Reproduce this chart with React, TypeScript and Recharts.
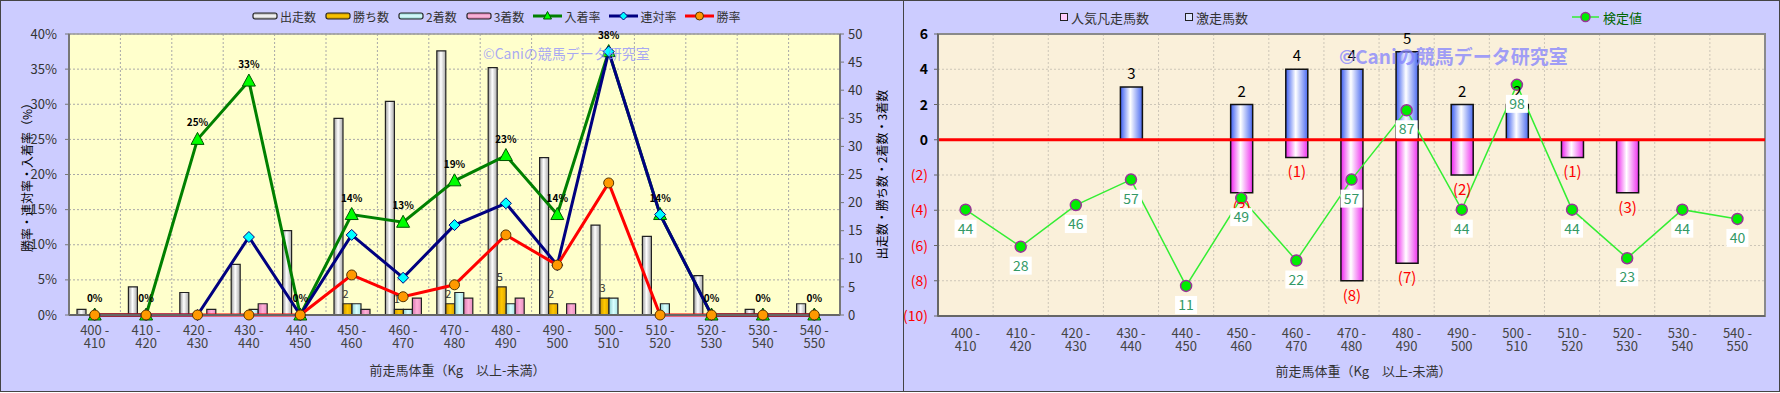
import React from 'react';
import {
  ComposedChart,
  Bar,
  Line,
  XAxis,
  YAxis,
  CartesianGrid,
  LabelList,
  ReferenceLine,
  ReferenceArea,
} from 'recharts';

// ---------- data ----------
const categories = [
  '400 - 410', '410 - 420', '420 - 430', '430 - 440', '440 - 450',
  '450 - 460', '460 - 470', '470 - 480', '480 - 490', '490 - 500',
  '500 - 510', '510 - 520', '520 - 530', '530 - 540', '540 - 550',
];
// left panel (counts)
const starters = [1, 5, 4, 9, 15, 35, 38, 47, 44, 28, 16, 14, 7, 1, 2];
const wins = [0, 0, 0, 0, 0, 2, 1, 2, 5, 2, 3, 0, 0, 0, 0];
const seconds = [0, 0, 0, 1, 0, 2, 1, 4, 2, 0, 3, 2, 0, 0, 0];
const thirds = [0, 0, 1, 2, 0, 1, 3, 3, 3, 2, 0, 0, 0, 0, 0];
// left panel (rates, %)
const placeRate = [0, 0, 25, 33.3, 0, 14.3, 13.2, 19.1, 22.7, 14.3, 37.5, 14.3, 0, 0, 0];
const quinellaRate = [0, 0, 0, 11.1, 0, 11.4, 5.3, 12.8, 15.9, 7.1, 37.5, 14.3, 0, 0, 0];
const winRate = [0, 0, 0, 0, 0, 5.7, 2.6, 4.3, 11.4, 7.1, 18.8, 0, 0, 0, 0];
// right panel
const surgeCount = [null, null, null, 3, null, 2, 4, 4, 5, 2, 2, null, null, null, null];
const flopCount = [null, null, null, null, null, -3, -1, -8, -7, -2, null, -1, -3, null, null];
const testValue = [44, 28, 46, 57, 11, 49, 22, 57, 87, 44, 98, 44, 23, 44, 40];
// ticks
const rateTicks = [0, 5, 10, 15, 20, 25, 30, 35, 40];
const countTicks = [0, 5, 10, 15, 20, 25, 30, 35, 40, 45, 50];
const diffTicks = [-10, -8, -6, -4, -2, 0, 2, 4, 6];

const leftData = categories.map((cat, i) => ({
  cat,
  starters: starters[i],
  wins: wins[i],
  seconds: seconds[i],
  thirds: thirds[i],
  placeRate: placeRate[i],
  quinellaRate: quinellaRate[i],
  winRate: winRate[i],
}));
const rightData = categories.map((cat, i) => ({
  cat,
  surge: surgeCount[i],
  flop: flopCount[i],
  test: testValue[i],
}));

const FONT = '"Noto Sans CJK JP", "Noto Sans", sans-serif';

const boundaryLines = (props: any) => {
  const { offset } = props;
  const n = categories.length;
  return Array.from({ length: n + 1 }, (_, i) => offset.left + (i * offset.width) / n);
};

const makeCatTick = (d1: number, color: string) => (props: any) => {
  const { x, y, payload } = props;
  const [a, b] = String(payload.value).split(' - ');
  return (
    <text x={x} y={y} textAnchor="middle" fill={color} fontSize={13} fontFamily={FONT}>
      <tspan x={x} dy={d1}>{a + ' -'}</tspan>
      <tspan x={x} dy={13}>{b}</tspan>
    </text>
  );
};

const TriangleDot = (props: any) => {
  const { cx, cy, index } = props;
  if (cx == null || cy == null) return <g key={`t${index}`} />;
  return (
    <polygon
      key={`t${index}`}
      points={`${cx},${cy - 7} ${cx - 6.5},${cy + 5} ${cx + 6.5},${cy + 5}`}
      fill="#00FF00"
      stroke="#005500"
      strokeWidth={1}
    />
  );
};
const DiamondDot = (props: any) => {
  const { cx, cy, index } = props;
  if (cx == null || cy == null) return <g key={`d${index}`} />;
  return (
    <polygon
      key={`d${index}`}
      points={`${cx},${cy - 5.5} ${cx + 5.5},${cy} ${cx},${cy + 5.5} ${cx - 5.5},${cy}`}
      fill="#00FFFF"
      stroke="#000080"
      strokeWidth={1}
    />
  );
};
const OrangeDot = (props: any) => {
  const { cx, cy, index } = props;
  if (cx == null || cy == null) return <g key={`o${index}`} />;
  return <circle key={`o${index}`} cx={cx} cy={cy} r={5} fill="#FF9900" stroke="#553300" strokeWidth={1} />;
};
const GreenDot = (props: any) => {
  const { cx, cy, index } = props;
  if (cx == null || cy == null) return <g key={`g${index}`} />;
  return <circle key={`g${index}`} cx={cx} cy={cy} r={5.5} fill="#00EE00" stroke="#993399" strokeWidth={1.5} />;
};

const PctLabel = (props: any) => {
  const { x, y, value } = props;
  if (value == null) return null;
  return (
    <text x={x} y={y - 13} textAnchor="middle" fontSize={10} fontWeight="bold" fill="#000" fontFamily={FONT}>
      {`${Math.round(value)}%`}
    </text>
  );
};
const WinLabel = (props: any) => {
  const { x, y, width, value } = props;
  if (!value) return null;
  return (
    <text x={x + width / 2 - 2} y={y - 6} textAnchor="middle" fontSize={11} fill="#333" fontFamily={FONT}>
      {value}
    </text>
  );
};
const SurgeLabel = (props: any) => {
  const { x, y, width, height, value } = props;
  if (!value) return null;
  const top = Math.min(y, y + height);
  return (
    <text x={x + width / 2} y={top - 8} textAnchor="middle" fontSize={15} fill="#000" fontFamily={FONT}>
      {value}
    </text>
  );
};
const FlopLabel = (props: any) => {
  const { x, y, width, height, value } = props;
  if (!value) return null;
  const bottom = Math.max(y, y + height);
  return (
    <text x={x + width / 2} y={bottom + 20} textAnchor="middle" fontSize={15} fill="#FF0000" fontFamily={FONT}>
      {`(${Math.abs(value)})`}
    </text>
  );
};
const TestLabel = (props: any) => {
  const { x, y, value } = props;
  if (value == null) return null;
  return (
    <g>
      <rect x={x - 11} y={y + 10} width={22} height={18} fill="#FFFFFF" />
      <text x={x} y={y + 24} textAnchor="middle" fontSize={14} fill="#339966" fontFamily={FONT}>
        {value}
      </text>
    </g>
  );
};
const DiffTick = (props: any) => {
  const { x, y, payload } = props;
  const v = payload.value;
  const neg = v < 0;
  return (
    <text
      x={x}
      y={y + 5}
      textAnchor="end"
      fontSize={14}
      fontWeight={neg ? 'normal' : 'bold'}
      fill={neg ? '#FF0000' : '#000'}
      fontFamily={FONT}
    >
      {neg ? `(${-v})` : v}
    </text>
  );
};

const barIcon = (grad: string) => (
  <svg width={26} height={8} style={{ display: 'block' }}>
    <defs>
      <linearGradient id={`lg-${grad}`} x1="0" y1="0" x2="0" y2="1">
        <stop offset="0%" stopColor={grad.split('|')[0]} />
        <stop offset="50%" stopColor={grad.split('|')[1]} />
        <stop offset="100%" stopColor={grad.split('|')[0]} />
      </linearGradient>
    </defs>
    <rect x={1} y={1} width={24} height={6} rx={2} fill={`url(#lg-${grad})`} stroke="#222" strokeWidth={1.2} />
  </svg>
);
const lineIcon = (color: string, marker: string) => (
  <svg width={29} height={12} style={{ display: 'block' }}>
    <line x1={0} y1={6} x2={29} y2={6} stroke={color} strokeWidth={3} />
    {marker === 'tri' && <polygon points="14.5,1.5 10.5,9 18.5,9" fill="#00FF00" stroke="#005500" strokeWidth={1} />}
    {marker === 'dia' && <polygon points="14.5,2 18.5,6 14.5,10 10.5,6" fill="#00FFFF" stroke="#000080" strokeWidth={1} />}
    {marker === 'cir' && <circle cx={14.5} cy={6} r={4} fill="#FF9900" stroke="#553300" strokeWidth={1} />}
  </svg>
);

const leftLegend = [
  { label: '出走数', icon: barIcon('#9a9a9a|#ffffff') },
  { label: '勝ち数', icon: barIcon('#c89000|#ffcc00') },
  { label: '2着数', icon: barIcon('#88cccc|#e0ffff') },
  { label: '3着数', icon: barIcon('#d070a8|#ffc0e0') },
  { label: '入着率', icon: lineIcon('#008000', 'tri') },
  { label: '連対率', icon: lineIcon('#000080', 'dia') },
  { label: '勝率', icon: lineIcon('#FF0000', 'cir') },
];

export default function App() {
  return (
    <div style={{ position: 'absolute', left: 0, top: 0, width: 1780, height: 393, fontFamily: FONT }}>
      {/* panel backgrounds */}
      <div style={{ position: 'absolute', left: 0, top: 0, width: 904, height: 392, boxSizing: 'border-box', border: '1px solid #444', background: '#CCCCFF' }} />
      <div style={{ position: 'absolute', left: 903, top: 0, width: 877, height: 392, boxSizing: 'border-box', border: '1px solid #444', background: '#CCCCFF' }} />

      {/* left chart */}
      <div style={{ position: 'absolute', left: 0, top: 0 }}>
        <ComposedChart
          width={903}
          height={393}
          data={leftData}
          margin={{ top: 34, right: 0, bottom: 0, left: 0 }}
          barGap={0}
          barSize={9}
        >
          <defs>
            <linearGradient id="gStart" x1="0" y1="0" x2="1" y2="0">
              <stop offset="0%" stopColor="#9a9a9a" />
              <stop offset="45%" stopColor="#ffffff" />
              <stop offset="100%" stopColor="#a8a8a8" />
            </linearGradient>
            <linearGradient id="gWin" x1="0" y1="0" x2="1" y2="0">
              <stop offset="0%" stopColor="#d09a00" />
              <stop offset="50%" stopColor="#ffc800" />
              <stop offset="100%" stopColor="#dba400" />
            </linearGradient>
            <linearGradient id="gSecond" x1="0" y1="0" x2="1" y2="0">
              <stop offset="0%" stopColor="#8fd0d0" />
              <stop offset="50%" stopColor="#d8ffff" />
              <stop offset="100%" stopColor="#a8e4e4" />
            </linearGradient>
            <linearGradient id="gThird" x1="0" y1="0" x2="1" y2="0">
              <stop offset="0%" stopColor="#d878b0" />
              <stop offset="50%" stopColor="#ffb0d8" />
              <stop offset="100%" stopColor="#e890c0" />
            </linearGradient>
          </defs>
          <CartesianGrid
            yAxisId="rate"
            fill="#FFFFCC"
            stroke="#A8A8A8"
            strokeDasharray="2 2"
            verticalCoordinatesGenerator={boundaryLines}
          />
          <XAxis
            dataKey="cat"
            height={78}
            interval={0}
            tickLine={false}
            tickSize={0}
            tickMargin={0}
            tick={makeCatTick(20, '#444')}
            axisLine={{ stroke: '#666', strokeWidth: 2 }}
            label={{
              value: '前走馬体重（Kg　以上-未満）',
              position: 'insideBottom',
              offset: 18,
              dx: 3,
              style: { fontSize: 13, fill: '#333', fontFamily: FONT },
            }}
          />
          <YAxis
            yAxisId="rate"
            width={69}
            domain={[0, 40]}
            ticks={rateTicks}
            tickFormatter={(v: number) => `${v}%`}
            tickSize={4}
            tickMargin={8}
            tick={{ fontSize: 13, fill: '#333', fontFamily: FONT }}
            axisLine={{ stroke: '#777', strokeWidth: 2 }}
            tickLine={{ stroke: '#777' }}
            label={{
              value: '勝率・連対率・入着率（%）',
              angle: -90,
              position: 'center',
              dx: -7,
              style: { fontSize: 12, fill: '#000', fontFamily: FONT, textAnchor: 'middle' },
            }}
          />
          <YAxis
            yAxisId="count"
            orientation="right"
            width={63}
            domain={[0, 50]}
            ticks={countTicks}
            tickSize={4}
            tickMargin={4}
            tick={{ fontSize: 13, fill: '#333', fontFamily: FONT }}
            axisLine={{ stroke: '#777', strokeWidth: 2 }}
            tickLine={{ stroke: '#777' }}
            label={{
              value: '出走数・勝ち数・2着数・3着数',
              angle: -90,
              position: 'center',
              dx: 11,
              style: { fontSize: 12, fill: '#000', fontFamily: FONT, textAnchor: 'middle' },
            }}
          />
          <ReferenceArea yAxisId="rate" y1={0} y2={40} fill="none" stroke="#9a9a9a" strokeWidth={1.5} ifOverflow="visible" />
          <Bar yAxisId="count" dataKey="starters" fill="url(#gStart)" stroke="#222" strokeWidth={1.2} isAnimationActive={false} />
          <Bar yAxisId="count" dataKey="wins" fill="url(#gWin)" stroke="#222" strokeWidth={1.2} isAnimationActive={false}>
            <LabelList dataKey="wins" content={WinLabel} />
          </Bar>
          <Bar yAxisId="count" dataKey="seconds" fill="url(#gSecond)" stroke="#222" strokeWidth={1.2} isAnimationActive={false} />
          <Bar yAxisId="count" dataKey="thirds" fill="url(#gThird)" stroke="#222" strokeWidth={1.2} isAnimationActive={false} />
          <Line
            yAxisId="rate"
            dataKey="placeRate"
            stroke="#008000"
            strokeWidth={3}
            dot={TriangleDot}
            activeDot={false}
            isAnimationActive={false}
          >
            <LabelList dataKey="placeRate" content={PctLabel} />
          </Line>
          <Line
            yAxisId="rate"
            dataKey="quinellaRate"
            stroke="#000080"
            strokeWidth={3}
            dot={DiamondDot}
            activeDot={false}
            isAnimationActive={false}
          />
          <Line
            yAxisId="rate"
            dataKey="winRate"
            stroke="#FF0000"
            strokeWidth={3}
            dot={OrangeDot}
            activeDot={false}
            isAnimationActive={false}
          />
        </ComposedChart>
      </div>

      {/* right chart */}
      <div style={{ position: 'absolute', left: 903, top: 0 }}>
        <ComposedChart
          width={877}
          height={393}
          data={rightData}
          margin={{ top: 34, right: 15, bottom: 0, left: 0 }}
          stackOffset="sign"
          barSize={22}
        >
          <defs>
            <linearGradient id="gBlue" x1="0" y1="0" x2="1" y2="0">
              <stop offset="0%" stopColor="#3a5cf0" />
              <stop offset="45%" stopColor="#ffffff" />
              <stop offset="100%" stopColor="#4a6af0" />
            </linearGradient>
            <linearGradient id="gPink" x1="0" y1="0" x2="1" y2="0">
              <stop offset="0%" stopColor="#ee22ee" />
              <stop offset="45%" stopColor="#ffffff" />
              <stop offset="100%" stopColor="#ee33ee" />
            </linearGradient>
          </defs>
          <CartesianGrid
            yAxisId="diff"
            fill="#FAF0DA"
            stroke="#CDC6B8"
            strokeDasharray="2 2"
            verticalCoordinatesGenerator={boundaryLines}
          />
          <XAxis
            dataKey="cat"
            height={77}
            interval={0}
            tickLine={false}
            tickSize={0}
            tickMargin={0}
            tick={makeCatTick(22, '#444')}
            axisLine={{ stroke: '#666', strokeWidth: 2 }}
            label={{
              value: '前走馬体重（Kg　以上-未満）',
              position: 'insideBottom',
              offset: 17,
              dx: 12,
              style: { fontSize: 13, fill: '#333', fontFamily: FONT },
            }}
          />
          <YAxis
            yAxisId="diff"
            width={35}
            domain={[-10, 6]}
            ticks={diffTicks}
            tickSize={4}
            tickMargin={6}
            tick={DiffTick}
            axisLine={{ stroke: '#666', strokeWidth: 2 }}
            tickLine={{ stroke: '#666' }}
          />
          <YAxis yAxisId="test" hide domain={[-2, 120]} />
          <ReferenceArea yAxisId="diff" y1={-10} y2={6} fill="none" stroke="#8a8a8a" strokeWidth={2} ifOverflow="visible" />
          <Bar yAxisId="diff" dataKey="surge" stackId="s" fill="url(#gBlue)" stroke="#111" strokeWidth={1.5} isAnimationActive={false}>
            <LabelList dataKey="surge" content={SurgeLabel} />
          </Bar>
          <Bar yAxisId="diff" dataKey="flop" stackId="s" fill="url(#gPink)" stroke="#111" strokeWidth={1.5} isAnimationActive={false}>
            <LabelList dataKey="flop" content={FlopLabel} />
          </Bar>
          <ReferenceLine yAxisId="diff" y={0} stroke="#FF0000" strokeWidth={3} />
          <Line
            yAxisId="test"
            dataKey="test"
            stroke="#33EE33"
            strokeWidth={1.5}
            dot={GreenDot}
            activeDot={false}
            isAnimationActive={false}
          >
            <LabelList dataKey="test" content={TestLabel} />
          </Line>
        </ComposedChart>
      </div>

      {/* legends */}
      <div style={{ position: 'absolute', left: 252, top: 8, height: 16, display: 'flex', alignItems: 'center', fontSize: 12, color: '#333', whiteSpace: 'nowrap' }}>
        {leftLegend.map((it) => (
          <div key={it.label} style={{ display: 'flex', alignItems: 'center', marginRight: 9 }}>
            {it.icon}
            <span style={{ marginLeft: 2 }}>{it.label}</span>
          </div>
        ))}
      </div>
      <div style={{ position: 'absolute', left: 1060, top: 8, height: 18, display: 'flex', alignItems: 'center', fontSize: 13, color: '#333', whiteSpace: 'nowrap' }}>
        <span style={{ display: 'inline-block', width: 6, height: 6, border: '1.5px solid #222', background: '#FFCCFF', marginRight: 3 }} />
        <span style={{ marginRight: 36 }}>人気凡走馬数</span>
        <span style={{ display: 'inline-block', width: 6, height: 6, border: '1.5px solid #222', background: '#DDE4FF', marginRight: 3 }} />
        <span>激走馬数</span>
      </div>
      <div style={{ position: 'absolute', left: 1572, top: 8, height: 18, display: 'flex', alignItems: 'center', fontSize: 13, color: '#006600', whiteSpace: 'nowrap' }}>
        <svg width={27} height={12} style={{ display: 'block', marginRight: 4 }}>
          <line x1={0} y1={6} x2={27} y2={6} stroke="#33EE33" strokeWidth={1.5} />
          <circle cx={13.5} cy={6} r={4.5} fill="#00EE00" stroke="#993399" strokeWidth={1.5} />
        </svg>
        <span>検定値</span>
      </div>

      {/* watermarks */}
      <div style={{ position: 'absolute', left: 483, top: 43, fontSize: 14, color: 'rgba(140,140,255,0.75)', whiteSpace: 'nowrap', pointerEvents: 'none' }}>
        ©Caniの競馬データ研究室
      </div>
      <div style={{ position: 'absolute', left: 1339, top: 42, fontSize: 19, fontWeight: 'bold', color: 'rgba(130,130,255,0.75)', whiteSpace: 'nowrap', pointerEvents: 'none' }}>
        ©Caniの競馬データ研究室
      </div>
    </div>
  );
}
